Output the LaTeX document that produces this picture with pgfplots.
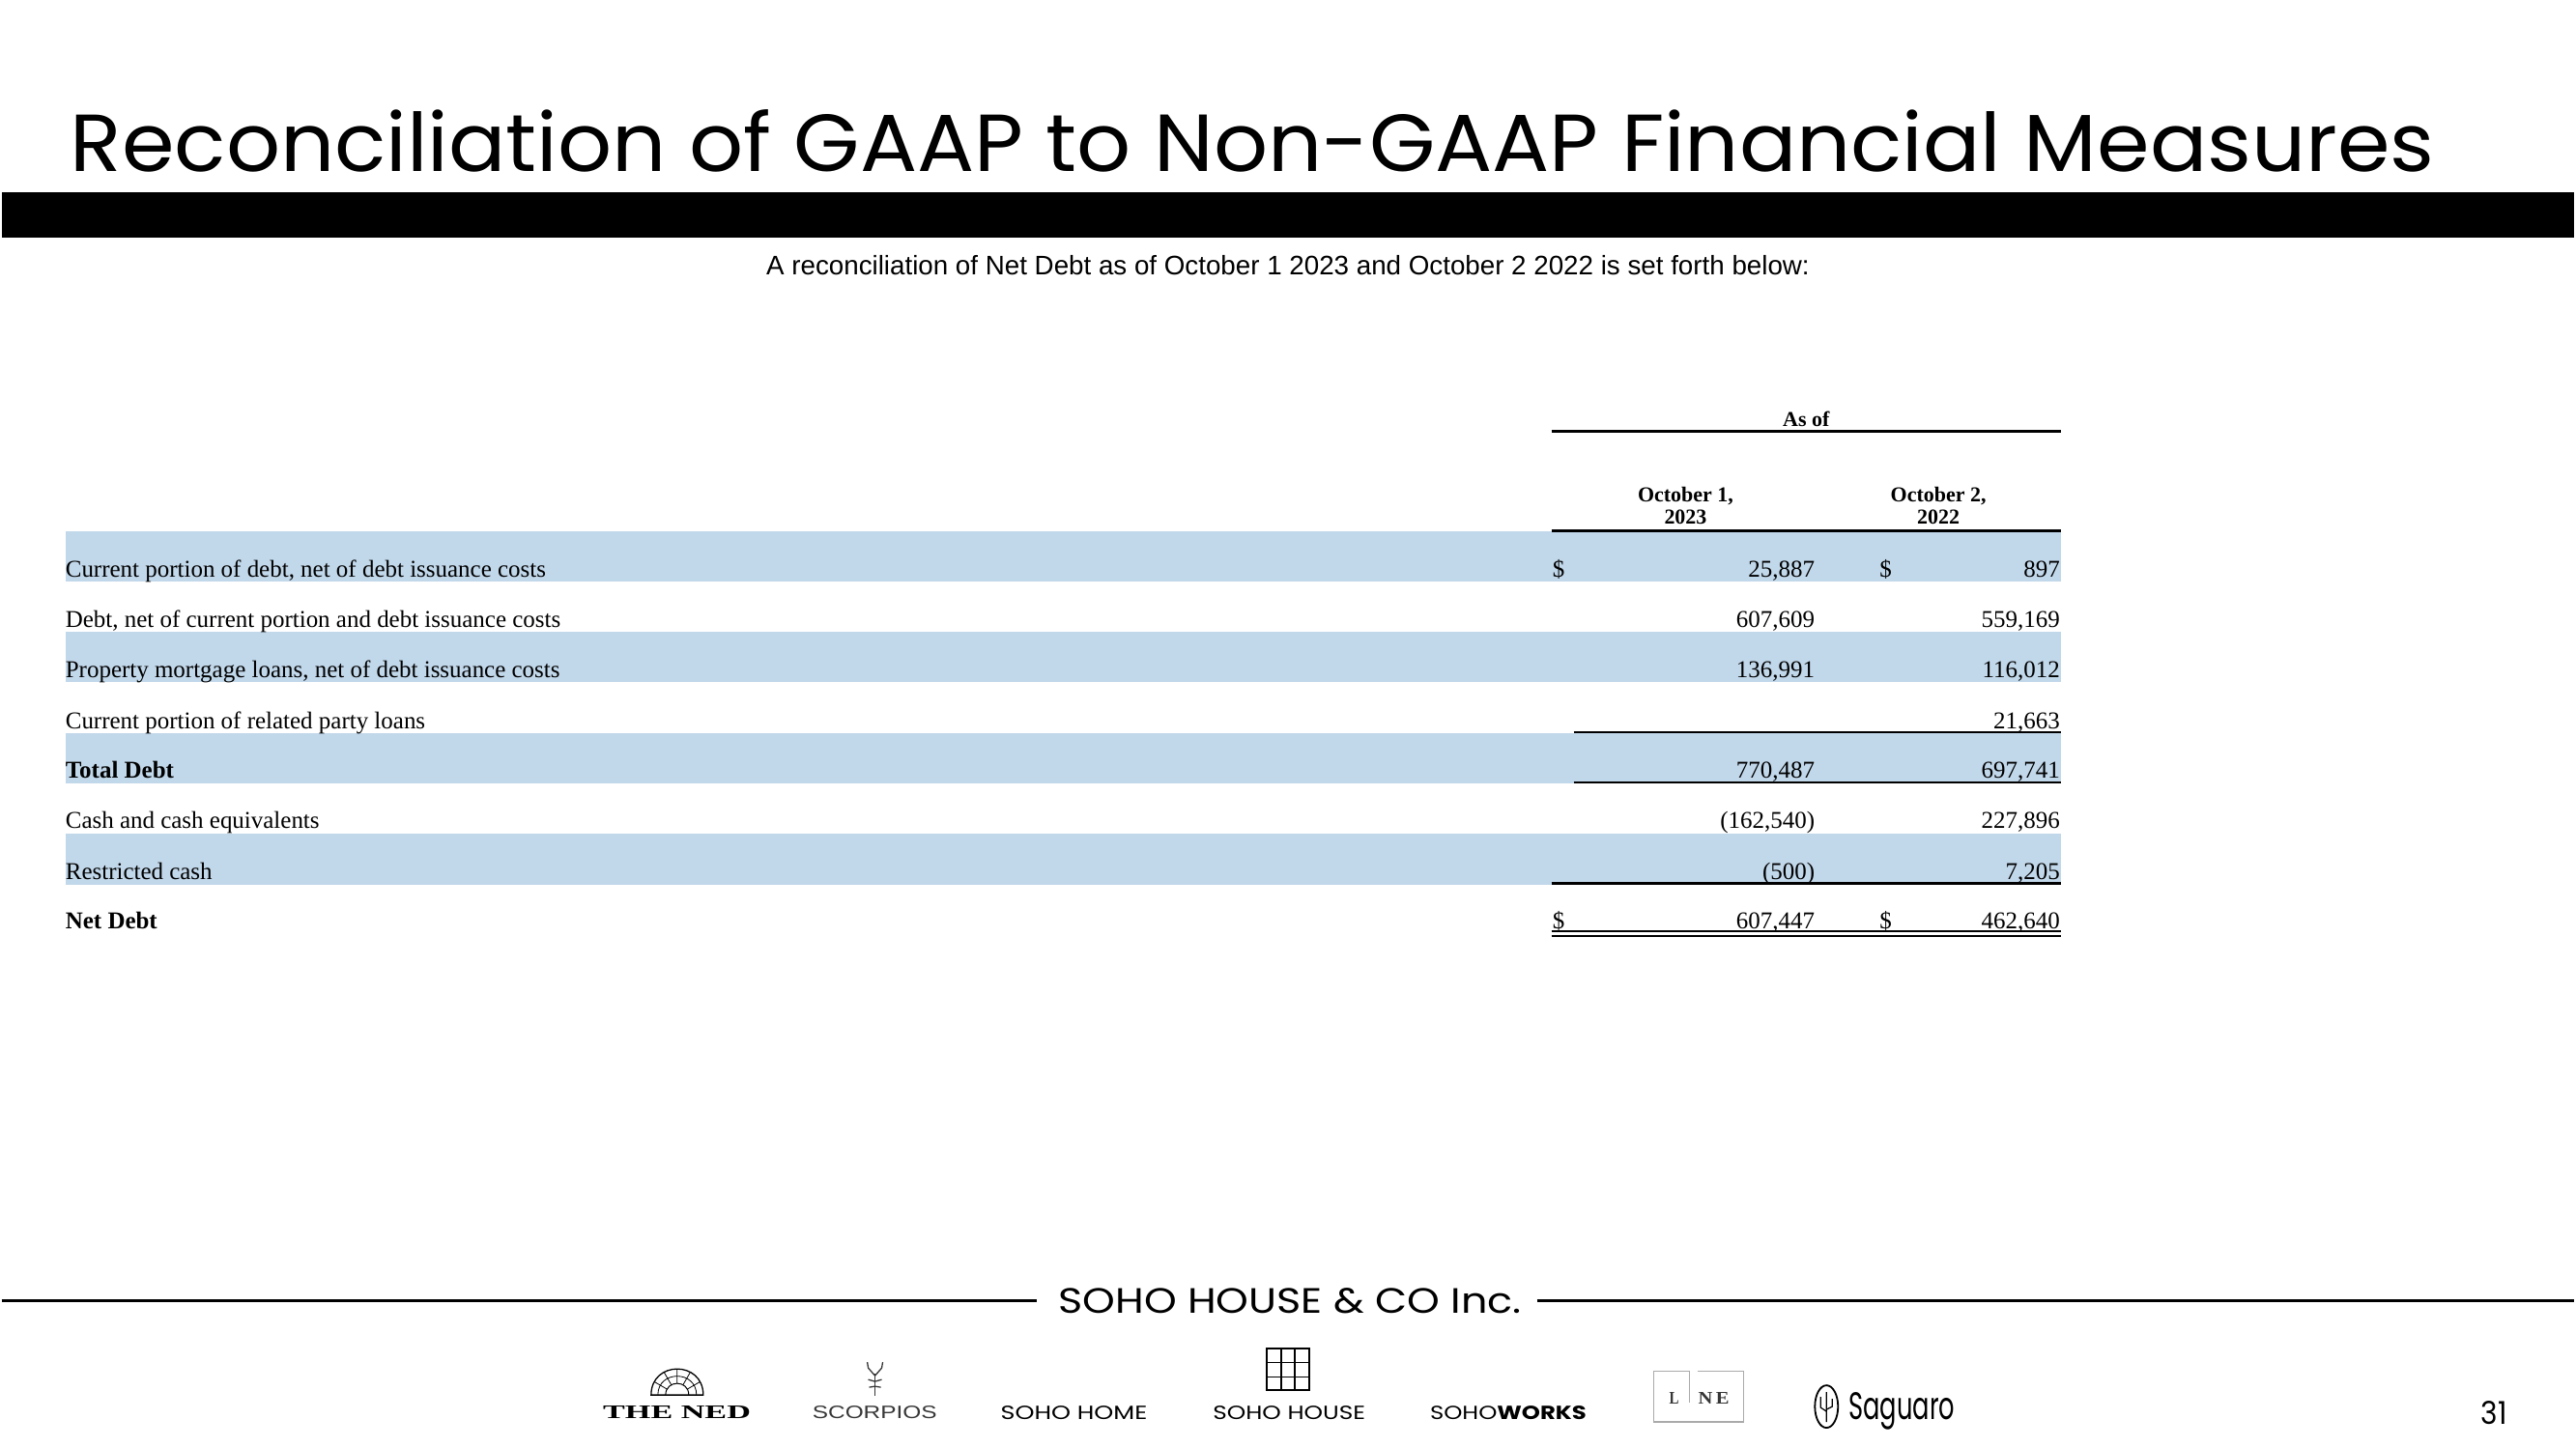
\documentclass[border=0pt]{standalone}
\usepackage{fontspec}
\usepackage{pgfplots}
\usepackage{pgfplotstable}
\pgfplotsset{compat=1.18}
\setmainfont{Liberation Serif}
\newfontfamily\gothic{Poppins}
\newfontfamily\sans{Liberation Sans}
\definecolor{band}{RGB}{193,215,234}
\definecolor{logogray}{RGB}{55,55,55}
\definecolor{boxgray}{RGB}{170,170,170}

% x = right edge of the column, y = baseline (px from the top)
\pgfplotstableread{
x    y   v
1879 598 25,887
1879 650 607,609
1879 702 136,991
1879 807 770,487
1879 859 (162,540)
1879 912 (500)
1879 963 607,447
}\octone
\pgfplotstableread{
x    y   v
2133 598 897
2133 650 559,169
2133 702 116,012
2133 755 21,663
2133 807 697,741
2133 859 227,896
2133 912 7,205
2133 963 462,640
}\octtwo

\newcommand\body{\fontsize{25}{30}\selectfont}
\newcommand\head{\fontsize{22}{23}\selectfont\bfseries}

\begin{document}
\begin{tikzpicture}
\begin{axis}[
  width=2666pt, height=1500pt, scale only axis,
  xmin=0, xmax=2666, ymin=0, ymax=1500, y dir=reverse,
  hide axis, clip=false,
  every node near coord/.style={anchor=base east, inner sep=0pt, font=\body, text=black}]
% page and title
\fill[white] (axis cs:0,0) rectangle (axis cs:2666,1500);
\node[anchor=base west, inner sep=0pt] at (axis cs:71,178)
  {\resizebox{2449pt}{64pt}{\gothic Reconciliation of GAAP to Non-GAAP Financial Measures}};
\fill[black] (axis cs:0,199) rectangle (axis cs:2666,246);
\node[anchor=base, inner sep=0pt] at (axis cs:1333,285)
  {\resizebox{1081pt}{!}{\sans\fontsize{27}{30}\selectfont A reconciliation of Net Debt as of October 1 2023 and October 2 2022 is set forth below:}};

% shaded rows
\fill[band] (axis cs:66,551) rectangle (axis cs:2134,603);
\fill[band] (axis cs:66,655) rectangle (axis cs:2134,707);
\fill[band] (axis cs:66,760) rectangle (axis cs:2134,812);
\fill[band] (axis cs:66,864) rectangle (axis cs:2134,917);

% header
\node[anchor=base, inner sep=0pt] at (axis cs:1870,442) {\head As of};
\draw[line width=2.7pt] (axis cs:1606,447) -- (axis cs:2134,447);
\node[anchor=base, inner sep=0pt] at (axis cs:1745,520) {\head October 1,};
\node[anchor=base, inner sep=0pt] at (axis cs:1745,543) {\head 2023};
\node[anchor=base, inner sep=0pt] at (axis cs:2007,520) {\head October 2,};
\node[anchor=base, inner sep=0pt] at (axis cs:2007,543) {\head 2022};
\draw[line width=2.7pt] (axis cs:1606,550) -- (axis cs:2134,550);

% row labels
\node[anchor=base west, inner sep=0pt] at (axis cs:66,598) {\body Current portion of debt, net of debt issuance costs};
\node[anchor=base west, inner sep=0pt] at (axis cs:66,650) {\body Debt, net of current portion and debt issuance costs};
\node[anchor=base west, inner sep=0pt] at (axis cs:66,702) {\body Property mortgage loans, net of debt issuance costs};
\node[anchor=base west, inner sep=0pt] at (axis cs:66,755) {\body Current portion of related party loans};
\node[anchor=base west, inner sep=0pt] at (axis cs:66,807) {\body\bfseries Total Debt};
\node[anchor=base west, inner sep=0pt] at (axis cs:66,859) {\body Cash and cash equivalents};
\node[anchor=base west, inner sep=0pt] at (axis cs:66,912) {\body Restricted cash};
\node[anchor=base west, inner sep=0pt] at (axis cs:66,963) {\body\bfseries Net Debt};

% dollar signs
\node[anchor=base west, inner sep=0pt] at (axis cs:1607,598) {\body \$};
\node[anchor=base west, inner sep=0pt] at (axis cs:1946,598) {\body \$};
\node[anchor=base west, inner sep=0pt] at (axis cs:1607,963) {\body \$};
\node[anchor=base west, inner sep=0pt] at (axis cs:1946,963) {\body \$};

% values
\addplot[only marks, mark=none, nodes near coords, point meta=explicit symbolic]
  table[x=x, y=y, meta=v] {\octone};
\addplot[only marks, mark=none, nodes near coords, point meta=explicit symbolic]
  table[x=x, y=y, meta=v] {\octtwo};

% rules
\draw[line width=2.7pt] (axis cs:1629,759) -- (axis cs:2134,759);
\draw[line width=2.7pt] (axis cs:1629,811) -- (axis cs:2134,811);
\draw[line width=2.7pt] (axis cs:1606,916) -- (axis cs:2134,916);
\draw[line width=1.6pt] (axis cs:1606,965) -- (axis cs:2134,965);
\draw[line width=1.6pt] (axis cs:1606,970) -- (axis cs:2134,970);

% footer
\draw[line width=3.5pt] (axis cs:0,1348) -- (axis cs:1073,1348);
\draw[line width=3.5pt] (axis cs:1591,1348) -- (axis cs:2666,1348);
\node[anchor=base west, inner sep=0pt] at (axis cs:1095,1361)
  {\resizebox{480pt}{26pt}{\gothic SOHO HOUSE \& CO Inc.}};

% THE NED
\draw[line width=1.3pt] (axis cs:673,1446) .. controls (axis cs:673,1410) and (axis cs:727,1410) .. (axis cs:727,1446) -- cycle;
\draw[line width=1pt] (axis cs:688,1446) .. controls (axis cs:688,1430) and (axis cs:712,1430) .. (axis cs:712,1446);
\draw[line width=0.8pt] (axis cs:680,1446) .. controls (axis cs:680,1420) and (axis cs:720,1420) .. (axis cs:720,1446);
\draw[line width=0.8pt] (axis cs:710.4,1440) -- (axis cs:723.4,1432.5) (axis cs:706,1435.6) -- (axis cs:713.5,1422.6)
  (axis cs:700,1434) -- (axis cs:700,1419) (axis cs:694,1435.6) -- (axis cs:686.5,1422.6) (axis cs:689.6,1440) -- (axis cs:676.6,1432.5);
\node[anchor=base west, inner sep=0pt] at (axis cs:623,1470) {\resizebox{153pt}{13pt}{\bfseries THE NED}};

% SCORPIOS
\draw[line width=1.6pt, logogray] (axis cs:905,1447) -- (axis cs:905,1424);
\draw[line width=1.3pt, logogray] (axis cs:905,1426) -- (axis cs:898,1418) -- (axis cs:897,1412)
  (axis cs:905,1426) -- (axis cs:912,1418) -- (axis cs:913,1412)
  (axis cs:905,1432) -- (axis cs:898,1430) (axis cs:905,1432) -- (axis cs:912,1430)
  (axis cs:905,1437) -- (axis cs:899,1438) (axis cs:905,1437) -- (axis cs:911,1438);
\node[anchor=base west, inner sep=0pt] at (axis cs:840,1470) {\resizebox{129pt}{13pt}{\sans\color{logogray}SCORPIOS}};

% SOHO HOME, SOHO HOUSE, SOHO WORKS
\node[anchor=base west, inner sep=0pt] at (axis cs:1035,1471) {\resizebox{152pt}{14pt}{\gothic SOHO HOME}};
\draw[line width=1.5pt] (axis cs:1311,1398) rectangle (axis cs:1355,1441);
\draw[line width=1.2pt] (axis cs:1326,1398) -- (axis cs:1326,1441) (axis cs:1340,1398) -- (axis cs:1340,1441)
  (axis cs:1311,1412) -- (axis cs:1355,1412) (axis cs:1311,1427) -- (axis cs:1355,1427);
\node[anchor=base west, inner sep=0pt] at (axis cs:1255,1471) {\resizebox{158pt}{14pt}{\gothic SOHO HOUSE}};
\node[anchor=base west, inner sep=0pt] at (axis cs:1480,1471) {\resizebox{162pt}{14pt}{\gothic SOHO\textbf{WORKS}}};

% LINE
\draw[line width=1.2pt, boxgray] (axis cs:1749,1421) -- (axis cs:1712,1421) -- (axis cs:1712,1474)
  -- (axis cs:1805,1474) -- (axis cs:1805,1421) -- (axis cs:1758,1421);
\draw[line width=1pt, boxgray] (axis cs:1749,1421) -- (axis cs:1749,1454);
\node[anchor=base west, inner sep=0pt] at (axis cs:1728,1455) {\resizebox{10pt}{12pt}{\bfseries\color{logogray}L}};
\node[anchor=base west, inner sep=0pt] at (axis cs:1758,1455) {\resizebox{32pt}{12pt}{\bfseries\color{logogray}N\,E}};

% Saguaro
\draw[line width=1.8pt] (axis cs:1891,1458) ellipse [x radius=12pt, y radius=22pt];
\draw[line width=1.2pt] (axis cs:1891,1443) -- (axis cs:1891,1474)
  (axis cs:1885,1448) -- (axis cs:1885,1459) -- (axis cs:1891,1463)
  (axis cs:1897,1450) -- (axis cs:1897,1458) -- (axis cs:1891,1461);
\node[anchor=base west, inner sep=0pt] at (axis cs:1914,1471) {\resizebox{110pt}{28pt}{\gothic Saguaro}};

% page number
\node[anchor=base west, inner sep=0pt] at (axis cs:2569,1476) {\resizebox{27pt}{24pt}{\gothic 31}};
\end{axis}
\end{tikzpicture}
\end{document}
